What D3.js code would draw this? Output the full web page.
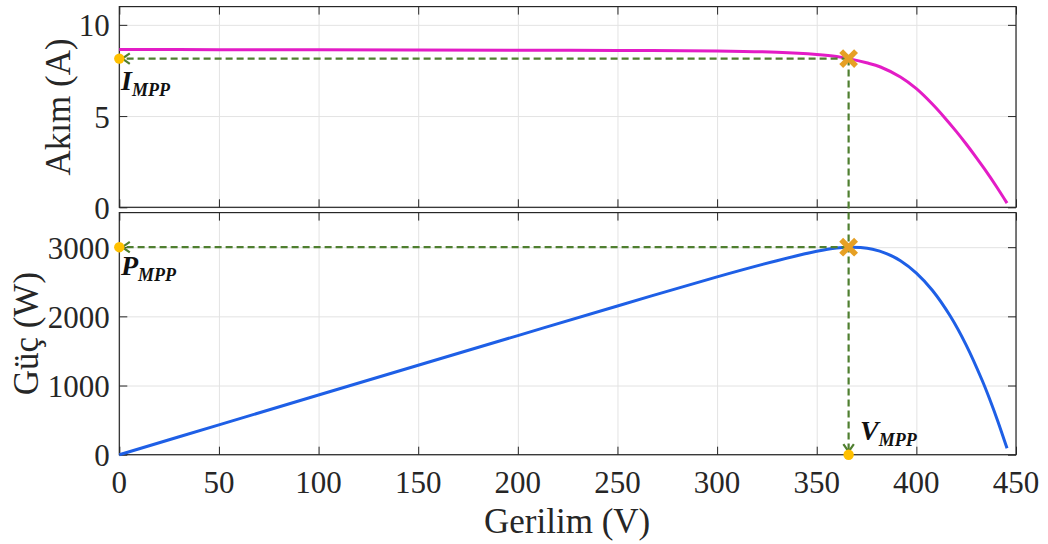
<!DOCTYPE html>
<html>
<head>
<meta charset="utf-8">
<script src="https://cdn.jsdelivr.net/npm/d3@7"></script>
<style>
  html, body { margin: 0; padding: 0; background: #fff; }
  svg { display: block; font-family: "Liberation Serif", "Times New Roman", serif; }
</style>
</head>
<body>
<svg id="chart" width="1048" height="544"></svg>
<script>
// ---- data ----
const voltageI = [0, 50, 100, 150, 200, 250, 300, 330, 350, 360, 366, 375, 382, 392, 400, 408, 414, 420, 425, 430, 434, 440, 445.5];
const current  = [8.65, 8.64, 8.63, 8.62, 8.61, 8.60, 8.57, 8.50, 8.38, 8.27, 8.15, 7.92, 7.69, 7.14, 6.50, 5.66, 4.94, 4.16, 3.47, 2.74, 2.13, 1.17, 0.23];
const voltageP = [0, 50, 100, 150, 200, 250, 300, 330, 350, 360, 366, 372, 378, 385, 392, 400, 408, 417, 425, 433, 437, 441, 445.5];
const power    = [0, 432, 863, 1293, 1722, 2150, 2571, 2805, 2940, 2988, 3000, 2994, 2970, 2908, 2805, 2626, 2378, 2005, 1585, 1076, 787, 474, 92];
const mppV = 366, mppI = 8.15, mppP = 3000;
const xTicks = [0, 50, 100, 150, 200, 250, 300, 350, 400, 450];
const iTicks = [0, 5, 10];
const pTicks = [0, 1000, 2000, 3000];

const svg = d3.select("#chart");
const L = 119.3, R = 1016;
const x = d3.scaleLinear().domain([0, 450]).range([L, R]);
const yI = d3.scaleLinear().domain([0, 11]).range([207.3, 6.6]);
const yP = d3.scaleLinear().domain([0, 3500]).range([454.7, 212.6]);

const axisCol = "#262626", gridCol = "#e3e3e3";
const green = "#4f7f30", orange = "#e6a024", dotCol = "#ffc000";
const FONT = "Liberation Serif, Times New Roman, serif";

function panel(y, yTicks, yFmt) {
  const [y0, y1] = y.range();
  const g = svg.append("g");
  // grid
  g.append("g").attr("transform", `translate(0,${y0})`)
    .call(d3.axisBottom(x).tickValues(xTicks).tickSize(-(y0 - y1)).tickFormat(""))
    .call(s => { s.select(".domain").remove(); s.selectAll("line").attr("stroke", gridCol).attr("stroke-width", 1); });
  g.append("g").attr("transform", `translate(${L},0)`)
    .call(d3.axisLeft(y).tickValues(yTicks).tickSize(-(R - L)).tickFormat(""))
    .call(s => { s.select(".domain").remove(); s.selectAll("line").attr("stroke", gridCol).attr("stroke-width", 1); });
  // frame ticks
  const tk = 8;
  const frame = g.append("g");
  frame.append("g").attr("transform", `translate(0,${y0})`).call(d3.axisBottom(x).tickValues(xTicks).tickSize(-tk).tickFormat(""));
  frame.append("g").attr("transform", `translate(0,${y1})`).call(d3.axisTop(x).tickValues(xTicks).tickSize(-tk).tickFormat(""));
  frame.append("g").attr("transform", `translate(${R},0)`).call(d3.axisRight(y).tickValues(yTicks).tickSize(-tk).tickFormat(""));
  const left = frame.append("g").attr("transform", `translate(${L},0)`).call(d3.axisLeft(y).tickValues(yTicks).tickSize(-tk).tickFormat(yFmt));
  left.selectAll("text").attr("x", -9.5).attr("dy", null).attr("y", 11)
    .attr("font-size", 31).attr("fill", axisCol).attr("font-family", FONT);
  frame.selectAll(".domain").remove();
  frame.selectAll("line").attr("stroke", axisCol).attr("stroke-width", 1);
  g.append("rect").attr("x", L).attr("y", y1).attr("width", R - L).attr("height", y0 - y1)
    .attr("fill", "none").attr("stroke", axisCol).attr("stroke-width", 1.2);
  return g;
}

panel(yI, iTicks, d3.format("d"));
panel(yP, pTicks, d3.format("d"));

// x tick labels on bottom panel
svg.append("g").selectAll("text").data(xTicks).join("text")
  .attr("x", d => x(d)).attr("y", 493).attr("text-anchor", "middle")
  .attr("font-size", 31).attr("fill", axisCol).text(d => d);

// axis titles
svg.append("text").attr("transform", `translate(${(x(0) + x(450)) / 2 - 0.5},533)`)
  .attr("text-anchor", "middle").attr("font-size", 35).attr("fill", axisCol).text("Gerilim (V)");
svg.append("text").attr("transform", `translate(70,${(yI.range()[0] + yI.range()[1]) / 2}) rotate(-90)`)
  .attr("text-anchor", "middle").attr("font-size", 35).attr("fill", axisCol).text("Akım (A)");
svg.append("text").attr("transform", `translate(38,${(yP.range()[0] + yP.range()[1]) / 2}) rotate(-90)`)
  .attr("text-anchor", "middle").attr("font-size", 35).attr("fill", axisCol).text("Güç (W)");

// curves
const ptsI = voltageI.map((v, k) => ({ v, val: current[k] }));
const ptsP = voltageP.map((v, k) => ({ v, val: power[k] }));
svg.append("path").datum(ptsI)
  .attr("d", d3.line().x(d => x(d.v)).y(d => yI(d.val)).curve(d3.curveCatmullRom.alpha(0.5)))
  .attr("fill", "none").attr("stroke", "#e31cc6").attr("stroke-width", 3);
svg.append("path").datum(ptsP)
  .attr("d", d3.line().x(d => x(d.v)).y(d => yP(d.val)).curve(d3.curveCatmullRom.alpha(0.5)))
  .attr("fill", "none").attr("stroke", "#1e5fe6").attr("stroke-width", 3);

// dashed guide lines
const dash = "7,4";
function dline(x1, y1, x2, y2) {
  svg.append("line").attr("x1", x1).attr("y1", y1).attr("x2", x2).attr("y2", y2)
    .attr("stroke", green).attr("stroke-width", 2.2).attr("stroke-dasharray", dash);
}
const xm = x(mppV), yim = yI(mppI), ypm = yP(mppP);
dline(xm, yim, x(0) + 3, yim);
dline(xm, ypm, x(0) + 3, ypm);
dline(xm, yim, xm, yP(0) - 3);
// arrow heads (open)
function arrow(px, py, dir) {
  const s = 7.5;
  let d;
  if (dir === "left") d = `M${px + s},${py - s * 0.7} L${px},${py} L${px + s},${py + s * 0.7}`;
  else d = `M${px - s * 0.7},${py - s} L${px},${py} L${px + s * 0.7},${py - s}`;
  svg.append("path").attr("d", d).attr("fill", "none").attr("stroke", green).attr("stroke-width", 2.2);
}
arrow(x(0) + 3, yim, "left");
arrow(x(0) + 3, ypm, "left");
arrow(xm, yP(0) - 3, "down");

// MPP markers (X)
function xmark(cx, cy) {
  const s = 5.5;
  svg.append("path").attr("d", `M${cx - s},${cy - s} L${cx + s},${cy + s} M${cx - s},${cy + s} L${cx + s},${cy - s}`)
    .attr("stroke", orange).attr("stroke-width", 5.5).attr("stroke-linecap", "square").attr("fill", "none");
}
xmark(xm, yim);
xmark(xm, ypm);

// projection dots
[[x(0), yim], [x(0), ypm], [xm, yP(0)]].forEach(([cx, cy]) => {
  svg.append("circle").attr("cx", cx).attr("cy", cy).attr("r", 5.2).attr("fill", dotCol);
});

// labels
function mppLabel(tx, ty, main) {
  const t = svg.append("text").attr("x", tx).attr("y", ty)
    .attr("font-weight", "bold").attr("font-style", "italic").attr("fill", "#111");
  t.append("tspan").attr("font-size", 28).text(main);
  t.append("tspan").attr("font-size", 18).attr("dy", 6).text("MPP");
}
mppLabel(121, 90, "I");
mppLabel(121, 275, "P");
mppLabel(860, 440, "V");
</script>
</body>
</html>
